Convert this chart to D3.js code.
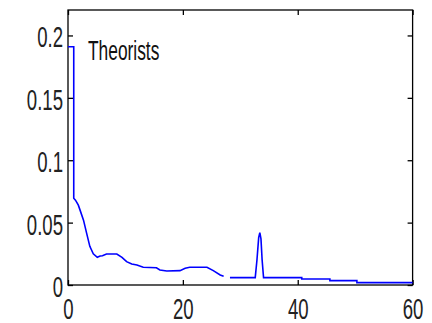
<!DOCTYPE html>
<html><head><meta charset="utf-8">
<script src="https://cdn.jsdelivr.net/npm/d3@7"></script>
<style>html,body{margin:0;padding:0;background:#fff;}svg{display:block;}</style>
</head><body>
<svg id="chart" width="432" height="323"></svg>
<script>
const xValues = [0, 1.0, 1.0, 1.3, 1.8, 2.1, 2.7, 3.25, 3.8, 4.4, 5.1, 5.6, 6.0, 6.7, 8.5, 9.4, 10.2, 11.1, 12.0, 13.1, 15.4, 16.0, 17.2, 19.5, 20.4, 21.2, 24.2, 25.3, 26.5, 27.1, 27.6, 28.2, 32.6, 32.9, 33.2, 33.4, 33.6, 33.8, 34.05, 40.7, 40.7, 45.6, 45.6, 50.3, 50.3, 60];
const yValues = [0.191, 0.191, 0.0695, 0.068, 0.064, 0.060, 0.052, 0.0414, 0.031, 0.025, 0.0222, 0.0232, 0.0235, 0.0248, 0.0248, 0.0222, 0.0187, 0.0168, 0.016, 0.0142, 0.0138, 0.012, 0.0112, 0.0115, 0.0134, 0.0142, 0.0142, 0.0115, 0.008, 0.007, null, 0.0059, 0.0059, 0.02, 0.038, 0.042, 0.037, 0.02, 0.0059, 0.0059, 0.0048, 0.0048, 0.0035, 0.0035, 0.0019, 0.0019];
const xTicks = [0, 20, 40, 60];
const yTicks = [0, 0.05, 0.1, 0.15, 0.2];
const yTickLabels = ["0", "0.05", "0.1", "0.15", "0.2"];
const seriesLabel = "Theorists";

(function () {
const svg = d3.select("#chart");
const mLeft = 68, mRight = 412.6, mTop = 10, mBottom = 285;
const x = d3.scaleLinear().domain([0, 60]).range([mLeft, mRight]);
const y = d3.scaleLinear().domain([0, 0.2204]).range([mBottom, mTop]);
const FONT = "'Liberation Sans', Arial, sans-serif";
const SX = 0.62;

const data = xValues.map((d, i) => ({x: d, y: yValues[i]}));

svg.append("rect").attr("x", mLeft).attr("y", mTop).attr("width", mRight - mLeft).attr("height", mBottom - mTop)
  .attr("fill", "none").attr("stroke", "#000").attr("stroke-width", 1.3);

const gx = svg.append("g").attr("transform", `translate(0,${mBottom})`)
  .call(d3.axisBottom(x).tickValues(xTicks).tickSize(-5).tickPadding(13).tickFormat(d3.format("d")));
const gxTop = svg.append("g").attr("transform", `translate(0,${mTop})`)
  .call(d3.axisTop(x).tickValues(xTicks).tickSize(-5).tickFormat(""));
const gy = svg.append("g").attr("transform", `translate(${mLeft},0)`)
  .call(d3.axisLeft(y).tickValues(yTicks).tickSize(-5).tickFormat((d, i) => yTickLabels[i]));
const gyR = svg.append("g").attr("transform", `translate(${mRight},0)`)
  .call(d3.axisRight(y).tickValues(yTicks).tickSize(-5).tickFormat(""));

[gx, gxTop, gy, gyR].forEach(g => {
  g.select(".domain").remove();
  g.selectAll(".tick line").attr("stroke", "#000").attr("stroke-width", 1.3);
});
gx.selectAll(".tick text").attr("font-family", FONT).attr("font-size", 30).attr("fill", "#222")
  .attr("transform", `scale(${SX},1)`);
gy.selectAll(".tick text").attr("font-family", FONT).attr("font-size", 30).attr("fill", "#222")
  .attr("x", -5 / SX).attr("dy", "0.38em").attr("transform", `scale(${SX},1)`);

const line = d3.line().defined(d => d.y !== null).x(d => x(d.x)).y(d => y(d.y));
svg.append("path").datum(data).attr("d", line).attr("fill", "none")
  .attr("stroke", "#0000ff").attr("stroke-width", 1.6).attr("stroke-linejoin", "miter");

svg.append("text").attr("transform", `translate(88,60) scale(${SX},1)`)
  .attr("font-family", FONT).attr("font-size", 28).attr("fill", "#111").text(seriesLabel);
})();
</script>
</body></html>
